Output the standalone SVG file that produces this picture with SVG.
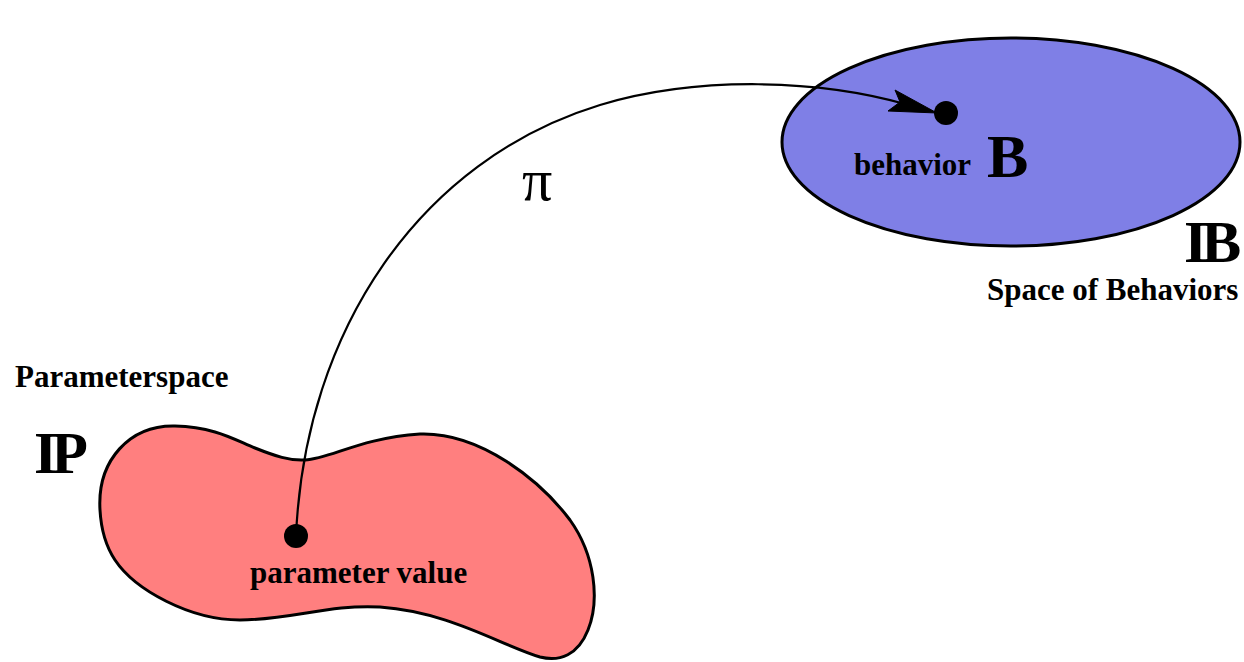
<svg xmlns="http://www.w3.org/2000/svg" width="1244" height="662" viewBox="0 0 1244 662">
<style>
.lbl{font-family:"Liberation Serif","Times New Roman",serif;font-weight:bold;fill:#000}
.shape{stroke:#000;stroke-width:3}
.conn{fill:none;stroke:#000;stroke-width:2.2}
</style>
<rect width="1244" height="662" fill="#fff"/>
<g id="behaviors">
<ellipse class="shape" cx="1011" cy="142" rx="229" ry="104" fill="#7f7fe6"/>
<circle cx="946" cy="113" r="12" fill="#000"/>
<text class="lbl" x="854" y="175" font-size="31">behavior</text>
<text class="lbl" x="987" y="177" font-size="62">B</text>
<text class="lbl" x="1184" y="262" font-size="60" letter-spacing="-6">IB</text>
<text class="lbl" x="987" y="300" font-size="31">Space of Behaviors</text>
</g>
<g id="parameterspace">
<path class="shape" fill="#ff7f7f" d="M100,510 C97,460 130,425 175,426 C215,427 235,440 255,448 C275,456 290,461 305,460 C330,459 360,438 420,434 C480,432 540,480 570,520 C595,555 600,600 588,630 C578,655 560,662 540,657 C500,645 450,612 380,607 C330,604 290,620 240,620 C190,620 135,590 115,560 C105,545 101,528 100,510 Z"/>
<circle cx="296" cy="536" r="12" fill="#000"/>
<text class="lbl" x="250" y="583" font-size="31">parameter value</text>
<text class="lbl" x="15" y="387" font-size="31">Parameterspace</text>
<text class="lbl" x="34" y="473" font-size="60" letter-spacing="-6">IP</text>
</g>
<g id="connectors">
<path class="conn" d="M296,536 C305,330 420,160 600,105 C700,75 820,80 905,104"/>
<polygon points="937,113 895,90 900,102 888,111" fill="#000" stroke="#000" stroke-width="1" stroke-linejoin="miter"/>
<text x="522" y="200" font-family="Liberation Serif,serif" font-size="60" fill="#000">π</text>
</g>
</svg>
